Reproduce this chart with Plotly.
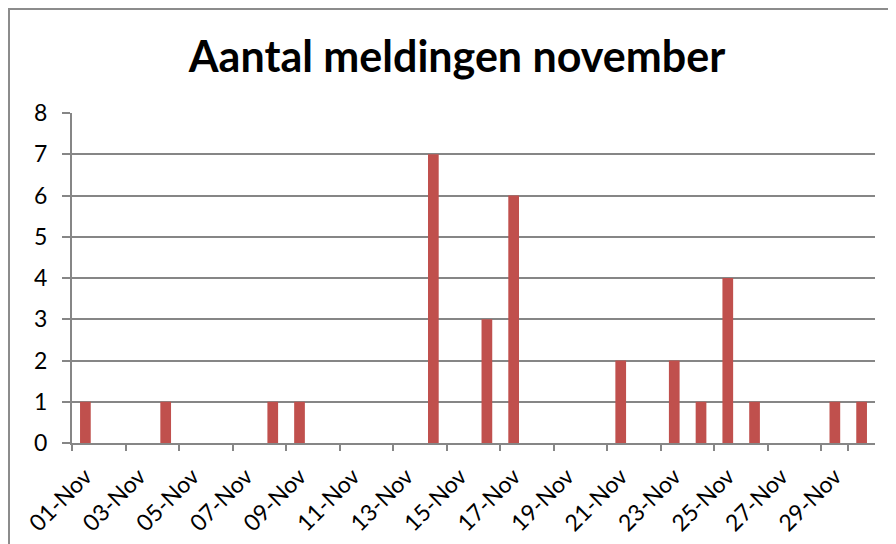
import plotly.graph_objects as go

days = ["01-Nov", "02-Nov", "03-Nov", "04-Nov", "05-Nov", "06-Nov", "07-Nov", "08-Nov",
        "09-Nov", "10-Nov", "11-Nov", "12-Nov", "13-Nov", "14-Nov", "15-Nov", "16-Nov",
        "17-Nov", "18-Nov", "19-Nov", "20-Nov", "21-Nov", "22-Nov", "23-Nov", "24-Nov",
        "25-Nov", "26-Nov", "27-Nov", "28-Nov", "29-Nov", "30-Nov"]
meldingen = [1, 0, 0, 1, 0, 0, 0, 1, 1, 0, 0, 0, 0, 7, 0, 3, 6, 0, 0, 0,
             2, 0, 2, 1, 4, 1, 0, 0, 1, 1]
y_ticks = [0, 1, 2, 3, 4, 5, 6, 7, 8]
x_labels = days[::2]

# page body has an 8px margin, so the figure is drawn 8px smaller and offset
OFF = 8
W, H = 896 - OFF, 544 - OFF
L, R, T, B = 72 - OFF, 21, 113 - OFF, 101
pw, ph = W - L - R, H - T - B

fig = go.Figure(go.Bar(
    x=days, y=meldingen, width=0.4,
    marker=dict(color="#C0504D", line=dict(width=0)),
))

font = "Lato, Calibri, Carlito, sans-serif"
fig.update_layout(
    width=W, height=H,
    margin=dict(l=L, r=R, t=T, b=B, autoexpand=False),
    paper_bgcolor="white", plot_bgcolor="white",
    showlegend=False,
    font=dict(family=font, size=22, color="black"),
    title=dict(text="<b>Aantal meldingen november</b>", x=(457 - OFF) / W, xref="container",
               xanchor="center", y=1 - (57 - OFF) / H, yref="container", yanchor="middle",
               automargin=False,
               font=dict(family=font, size=43, color="black")),
    xaxis=dict(
        type="category", categoryorder="array", categoryarray=days,
        tickmode="array", tickvals=x_labels, ticktext=x_labels,
        tickson="boundaries", tickangle=-45, automargin=False,
        tickfont=dict(family=font, size=23, color="black"),
        ticks="outside", ticklen=6, tickcolor="#868686", tickwidth=2,
        showline=True, linecolor="#868686", linewidth=2, ticklabelstandoff=9,
        showgrid=False, range=[-0.5, 29.5], fixedrange=True,
    ),
    yaxis=dict(
        range=[0, 8], tickmode="array", tickvals=y_ticks, automargin=False,
        tickfont=dict(family=font, size=23, color="black"),
        ticks="outside", ticklen=8, tickcolor="#868686", tickwidth=2,
        showline=True, linecolor="#868686", linewidth=2,
        showgrid=True, gridcolor="#868686", gridwidth=2,
        zeroline=False, ticklabelstandoff=10,
    ),
    shapes=[dict(type="rect", xref="paper", yref="paper",
                 x0=(1 - L) / pw, x1=(W + 20 - L) / pw,
                 y0=-(B + 20) / ph, y1=(H - B - 1) / ph,
                 line=dict(color="#8C8C8C", width=2), fillcolor="rgba(0,0,0,0)",
                 layer="below")],
)

fig.write_html("out.html")
